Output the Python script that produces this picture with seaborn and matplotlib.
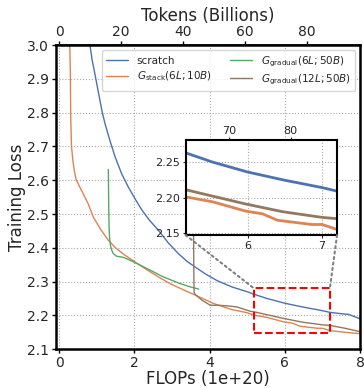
import numpy as np
import pandas as pd
import matplotlib
matplotlib.use("Agg")
import matplotlib.pyplot as plt
import seaborn as sns
from matplotlib.patches import Rectangle, ConnectionPatch

# ---------------- data ----------------
scratch_x = [0.75, 0.82, 0.88, 0.95, 1.02, 1.085, 1.15, 1.22, 1.35, 1.49, 1.66, 1.84, 2.02,
             2.2, 2.4, 2.64, 2.9, 3.17, 3.4, 3.62, 3.9, 4.2, 4.6, 5.0, 5.17, 5.53, 6.0,
             6.47, 7.0, 7.2, 7.5, 7.7, 8.0]
scratch_y = [3.2, 3.0, 2.955, 2.916, 2.875, 2.837, 2.80, 2.768, 2.718, 2.669, 2.62, 2.58,
             2.545, 2.512, 2.482, 2.452, 2.415, 2.383, 2.36, 2.343, 2.322, 2.303, 2.284,
             2.27, 2.263, 2.25, 2.236, 2.225, 2.214, 2.209, 2.205, 2.203, 2.19]

stack_x = [0.27, 0.285, 0.30, 0.31, 0.33, 0.37, 0.41, 0.46, 0.55, 0.64, 0.77, 0.91, 1.09,
           1.31, 1.5, 1.75, 1.89, 2.1, 2.42, 2.7, 2.95, 3.3, 3.62, 4.11, 4.6, 5.0, 5.17,
           5.53, 5.97, 6.2, 6.4, 6.86, 7.0, 7.2, 7.6, 8.0]
stack_y = [3.3, 3.0, 2.916, 2.787, 2.70, 2.655, 2.625, 2.60, 2.58, 2.56, 2.531, 2.491,
           2.457, 2.422, 2.40, 2.378, 2.368, 2.352, 2.329, 2.31, 2.294, 2.276, 2.26, 2.235,
           2.217, 2.208, 2.201, 2.194, 2.181, 2.177, 2.168, 2.162, 2.162, 2.155, 2.15, 2.146]

grad6_x = [1.31, 1.315, 1.32, 1.33, 1.345, 1.37, 1.40, 1.44, 1.53, 1.7, 1.89, 2.06, 2.33,
           2.77, 3.22, 3.5, 3.71]
grad6_y = [2.632, 2.58, 2.52, 2.46, 2.425, 2.405, 2.393, 2.383, 2.375, 2.372, 2.363, 2.354,
           2.339, 2.314, 2.294, 2.284, 2.278]

grad12_x = [3.57, 3.575, 3.585, 3.59, 3.62, 3.66, 3.8, 4.02, 4.24, 4.5, 4.73, 5.09, 5.17,
            5.53, 5.97, 6.47, 7.0, 7.22, 7.6, 8.0]
grad12_y = [2.6, 2.45, 2.30, 2.268, 2.262, 2.258, 2.245, 2.23, 2.23, 2.228, 2.225, 2.212,
            2.211, 2.202, 2.191, 2.180, 2.172, 2.170, 2.162, 2.152]

labels = ["scratch", r"$G_{\mathrm{stack}}(6L;10B)$",
          r"$G_{\mathrm{gradual}}(6L;50B)$", r"$G_{\mathrm{gradual}}(12L;50B)$"]
xticks = [0, 2, 4, 6, 8]
yticks = [2.1, 2.2, 2.3, 2.4, 2.5, 2.6, 2.7, 2.8, 2.9, 3.0]
token_ticks = [0, 20, 40, 60, 80]
tokens_per_flop = 12.16
zoom_x = (5.17, 7.2)
zoom_y = (2.147, 2.281)
inset_xticks = [6, 7]
inset_yticks = [2.15, 2.20, 2.25]
inset_token_ticks = [70, 80]

# ---------------- style ----------------
sns.set_theme(style="ticks")
plt.rcParams["font.family"] = ["DejaVu Sans"]
pal = sns.color_palette("deep")
colors = [pal[0], pal[1], pal[2], pal[5]]

series = [(scratch_x, scratch_y), (stack_x, stack_y), (grad6_x, grad6_y), (grad12_x, grad12_y)]
frames = [pd.DataFrame({"x": sx, "y": sy}) for sx, sy in series]

fig = plt.figure(figsize=(3.64, 3.88), dpi=100)
ax = fig.add_axes([0.154, 0.1, 0.835, 0.784])

for df, c, lab in zip(frames, colors, labels):
    sns.lineplot(data=df, x="x", y="y", ax=ax, color=c, label=lab, lw=1.0,
                 sort=False, estimator=None)

ax.set_xlim(-0.08, 8)
ax.set_ylim(2.1, 3.0)
ax.set_xticks(xticks)
ax.set_yticks(yticks)
ax.set_yticklabels([f"{v:.1f}" for v in yticks])
ax.tick_params(labelsize=10, length=3, width=1, color="black", pad=2)
ax.set_xlabel("FLOPs (1e+20)", fontsize=12, labelpad=0)
ax.set_ylabel("Training Loss", fontsize=12, labelpad=1)
ax.grid(True, ls=":", lw=0.8, color="#aaaaaa")
for s in ax.spines.values():
    s.set_color("black")
    s.set_linewidth(1.8)

sec = ax.secondary_xaxis("top", functions=(lambda f: f * tokens_per_flop,
                                           lambda t: t / tokens_per_flop))
sec.set_xticks(token_ticks)
sec.tick_params(labelsize=10, length=3, width=1, color="black", pad=1)
sec.set_xlabel("Tokens (Billions)", fontsize=12, labelpad=3)

leg = ax.legend(loc="upper right", ncol=2, fontsize=7.5, frameon=True, handlelength=2.1,
                columnspacing=1.8, borderaxespad=0.5, labelspacing=0.35)
leg.get_frame().set_edgecolor("#cccccc")

# zoom box
ax.add_patch(Rectangle((zoom_x[0], zoom_y[0]), zoom_x[1] - zoom_x[0], zoom_y[1] - zoom_y[0],
                       fill=False, ec="red", ls="--", lw=1.5, zorder=5))

# inset
axins = fig.add_axes([0.510, 0.394, 0.416, 0.245])
for df, c in zip(frames, colors):
    sns.lineplot(data=df, x="x", y="y", ax=axins, color=c, lw=2.0,
                 sort=False, estimator=None, legend=False)
axins.set_xlim(*zoom_x)
axins.set_ylim(*zoom_y)
axins.set_xticks(inset_xticks)
axins.set_yticks(inset_yticks)
axins.set_yticklabels([f"{v:.2f}" for v in inset_yticks])
axins.set_xlabel("")
axins.set_ylabel("")
axins.tick_params(labelsize=8, length=2, width=0.8, pad=2)
axins.grid(True, ls=":", lw=0.8, color="#aaaaaa")
for s in axins.spines.values():
    s.set_color("black")
    s.set_linewidth(1.5)
secin = axins.secondary_xaxis("top", functions=(lambda f: f * tokens_per_flop,
                                                lambda t: t / tokens_per_flop))
secin.set_xticks(inset_token_ticks)
secin.tick_params(labelsize=8, length=2, width=0.8, pad=1)

# connectors
for ca, cb in [((0, 0), (zoom_x[0], zoom_y[1])), ((1, 0), (zoom_x[1], zoom_y[1]))]:
    con = ConnectionPatch(xyA=ca, coordsA=axins.transAxes, xyB=cb, coordsB=ax.transData,
                          ls=":", lw=1.5, color="#808080", zorder=4)
    fig.add_artist(con)

fig.savefig("out.png", dpi=100)
